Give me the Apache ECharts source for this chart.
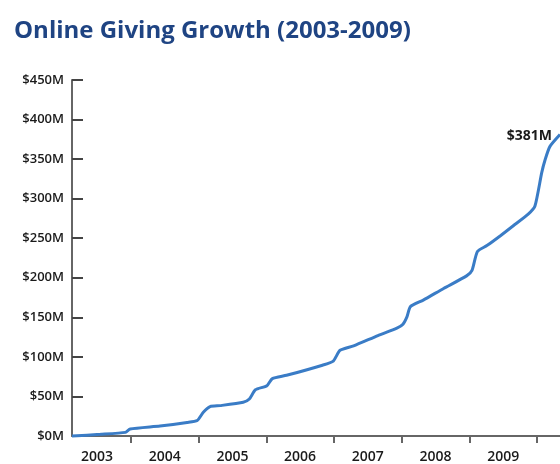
<!DOCTYPE html>
<html>
<head>
<meta charset="utf-8">
<script src="https://cdn.jsdelivr.net/npm/echarts@6/dist/echarts.min.js"></script>
<style>
  html, body { margin: 0; padding: 0; background: #ffffff; }
  #chart { width: 560px; height: 464px; }
</style>
</head>
<body>
<div id="chart"></div>
<script>
// Cumulative online giving, sampled along the timeline (decimal years)
const timeline = [
  2003.13, 2003.55, 2003.92, 2003.99, 2004.43, 2004.83, 2004.98, 2005.07, 2005.17,
  2005.32, 2005.66, 2005.75, 2005.84, 2006.01, 2006.09, 2006.30, 2006.83, 2006.99,
  2007.09, 2007.29, 2007.65, 2007.93, 2008.02, 2008.08, 2008.13, 2008.32, 2008.62,
  2008.96, 2009.04, 2009.12, 2009.26, 2009.46, 2009.65, 2009.87, 2009.97, 2010.07,
  2010.12, 2010.19, 2010.34
];
const givingMillions = [
  0, 2.1, 4.6, 8.8, 12.5, 17.1, 19.6, 30, 37.2,
  38.4, 42.6, 46.7, 58.4, 63.5, 72.6, 76.7, 89.5, 94.7,
  108.3, 113.9, 127, 136.4, 141.4, 151, 163.6, 171.8, 186.5,
  202.4, 209.4, 233.2, 240.7, 253.2, 265.7, 280.4, 290.7, 332.9,
  349.2, 365.8, 381
];
const yearLabels = ['2003', '2004', '2005', '2006', '2007', '2008', '2009'];
const yearBoundaries = [2004, 2005, 2006, 2007, 2008, 2009, 2010];

const seriesData = timeline.map((t, i) => [t, givingMillions[i]]);
const lastValue = givingMillions[givingMillions.length - 1];

const chart = echarts.init(document.getElementById('chart'), null, { renderer: 'canvas' });
chart.setOption({
  animation: false,
  backgroundColor: '#ffffff',
  title: {
    text: 'Online Giving Growth (2003-2009)',
    left: 9,
    top: 14,
    textStyle: {
      color: '#1f4483',
      fontFamily: 'Open Sans',
      fontWeight: 'bold',
      fontSize: 24
    }
  },
  grid: { left: 72, right: 0, top: 80, bottom: 25 },
  xAxis: {
    type: 'value',
    min: timeline[0],
    max: timeline[timeline.length - 1],
    splitLine: { show: false },
    axisLine: { show: true, lineStyle: { color: '#666', width: 2 } },
    axisTick: {
      show: true,
      customValues: yearBoundaries,
      length: 7,
      lineStyle: { color: '#666', width: 2 }
    },
    axisLabel: {
      customValues: yearLabels.map(y => Number(y) + 0.5),
      formatter: v => String(Math.floor(v)),
      color: '#1a1a1a',
      fontFamily: 'Open Sans',
      fontWeight: 600,
      fontSize: 14,
      margin: 14
    }
  },
  yAxis: {
    type: 'value',
    min: 0,
    max: 450,
    interval: 50,
    splitLine: { show: false },
    axisLine: { show: true, lineStyle: { color: '#666', width: 2 } },
    axisTick: {
      show: true,
      inside: true,
      length: 11,
      lineStyle: { color: '#444', width: 2 }
    },
    axisLabel: {
      formatter: v => '$' + v + 'M',
      color: '#1a1a1a',
      fontFamily: 'Open Sans',
      fontWeight: 600,
      fontSize: 13,
      margin: 8
    }
  },
  series: [{
    type: 'line',
    data: seriesData,
    smooth: 0.2,
    showSymbol: false,
    symbol: 'none',
    clip: false,
    lineStyle: { color: '#3a7cc6', width: 3 },
    endLabel: {
      show: true,
      formatter: '$' + lastValue + 'M',
      align: 'right',
      verticalAlign: 'middle',
      offset: [-16, 1],
      color: '#1a1a1a',
      fontFamily: 'Open Sans',
      fontWeight: 'bold',
      fontSize: 14
    }
  }]
});
</script>
</body>
</html>
